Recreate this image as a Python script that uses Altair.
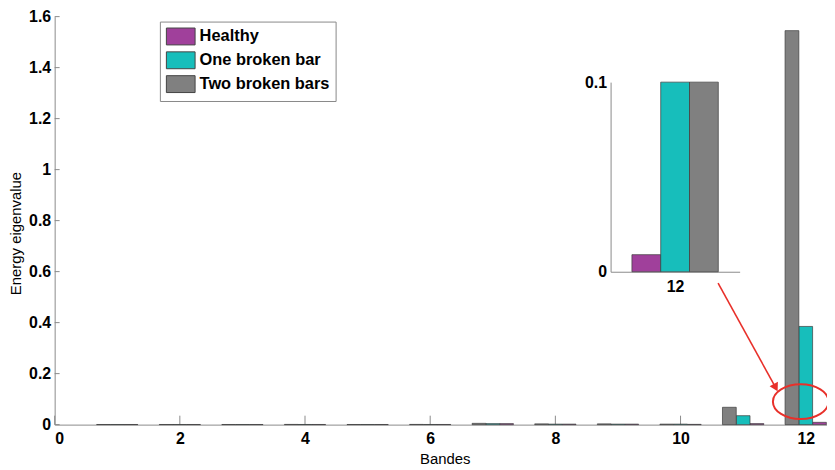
import altair as alt
import pandas as pd

# ---------------- data ----------------
bands = list(range(1, 13))
healthy = [0.0005, 0.0005, 0.0005, 0.0006, 0.0005, 0.0006, 0.004, 0.002, 0.002, 0.001, 0.004, 0.009]
one_bar = [0.0005, 0.0005, 0.0005, 0.0006, 0.0005, 0.0006, 0.004, 0.002, 0.002, 0.002, 0.035, 0.385]
two_bars = [0.0005, 0.0005, 0.0005, 0.0008, 0.0005, 0.0008, 0.005, 0.003, 0.003, 0.002, 0.068, 1.545]
series = ["Healthy", "One broken bar", "Two broken bars"]
colors = ["#A0409B", "#17BEBB", "#808080"]
main_order = {"Two broken bars": 0, "One broken bar": 1, "Healthy": 2}
inset_order = {"Healthy": 0, "One broken bar": 1, "Two broken bars": 2}
x_ticks = [0, 2, 4, 6, 8, 10, 12]
y_ticks = [0, 0.2, 0.4, 0.6, 0.8, 1.0, 1.2, 1.4, 1.6]
inset_band = 12
inset_ticks = [0, 0.1]
arrow_x = [10.60, 11.52]
arrow_y = [0.555, 0.145]
ellipse_x = [11.92]
ellipse_y = [0.09]

rows = []
for name, vals in zip(series, [healthy, one_bar, two_bars]):
    for b, v in zip(bands, vals):
        rows.append({"band": b, "series": name, "value": v,
                     "idx": main_order[name], "iidx": inset_order[name]})
df = pd.DataFrame(rows)

FONT = "Liberation Sans"
AX = "#8a8a8a"
W, H = 778, 411
BW = 0.22

xs = alt.Scale(domain=[0, 12.34], nice=False, zero=False)
ys = alt.Scale(domain=[0, 1.6], nice=False)
cs = alt.Scale(domain=series, range=colors)

x_axis = alt.Axis(
    orient="bottom", values=x_ticks, format="d", ticks=False, grid=False, title="Bandes",
    domainColor=AX, labelFont=FONT, labelFontWeight="bold", labelFontSize=16,
    labelColor="#000", labelPadding=6, titleFont=FONT, titleFontWeight="normal",
    titleFontSize=15, titleColor="#000", titlePadding=5, titleX=393)
y_axis = alt.Axis(
    orient="left", values=y_ticks, format="~g", ticks=False, grid=False, title="Energy eigenvalue",
    domainColor=AX, labelFont=FONT, labelFontWeight="bold", labelFontSize=16,
    labelColor="#000", labelPadding=4, titleFont=FONT, titleFontWeight="normal",
    titleFontSize=15, titleColor="#000", titlePadding=5, titleY=218)

xtick = alt.Chart(pd.DataFrame({"t": x_ticks})).mark_rule(color=AX, strokeWidth=1).encode(
    x=alt.X("t:Q", scale=xs, axis=x_axis), y=alt.value(H), y2=alt.value(H - 9))
ytick = alt.Chart(pd.DataFrame({"t": y_ticks})).mark_rule(color=AX, strokeWidth=1).encode(
    y=alt.Y("t:Q", scale=ys, axis=y_axis), x=alt.value(0), x2=alt.value(5))

bars = alt.Chart(df).transform_calculate(
    x0=f"datum.band - 1.5*{BW} + datum.idx*{BW}",
    x1=f"datum.band - 0.5*{BW} + datum.idx*{BW}",
).mark_bar(stroke="#3c3c3c", strokeWidth=0.7).encode(
    x=alt.X("x0:Q", scale=xs, axis=x_axis),
    x2="x1:Q",
    y=alt.Y("value:Q", scale=ys, axis=y_axis),
    y2=alt.datum(0),
    color=alt.Color("series:N", scale=cs, legend=alt.Legend(
        title=None, orient="none", legendX=106, legendY=5, padding=6,
        strokeColor="#888", fillColor="white",
        symbolType="M-1.7,-1H1.7V1H-1.7Z", symbolSize=289, symbolOffset=6,
        symbolStrokeColor="#444", symbolStrokeWidth=1, symbolOpacity=1,
        labelFont=FONT, labelFontWeight="bold", labelFontSize=16.5, labelColor="#000",
        labelOffset=10, rowPadding=2)),
)

arrow_df = pd.DataFrame({"x": arrow_x, "y": arrow_y})
arrow = alt.Chart(arrow_df).mark_line(color="#E8302A", strokeWidth=1.6).encode(
    x=alt.X("x:Q", scale=xs, axis=x_axis), y=alt.Y("y:Q", scale=ys, axis=y_axis))
head = alt.Chart(arrow_df.tail(1)).mark_point(
    shape="triangle-up", filled=True, color="#E8302A", opacity=1, size=90, angle=152).encode(
    x=alt.X("x:Q", scale=xs, axis=x_axis), y=alt.Y("y:Q", scale=ys, axis=y_axis))
ellipse = alt.Chart(pd.DataFrame({"x": ellipse_x, "y": ellipse_y})).mark_point(
    shape="M-1.6,0A1.6,1,0,1,0,1.6,0A1.6,1,0,1,0,-1.6,0Z", filled=False,
    color="#E8302A", strokeWidth=2, size=1225, opacity=1).encode(
    x=alt.X("x:Q", scale=xs, axis=x_axis), y=alt.Y("y:Q", scale=ys, axis=y_axis))

main = alt.layer(xtick, ytick, bars, arrow, head, ellipse)

inset = alt.Chart(df).transform_filter(f"datum.band == {inset_band}").transform_calculate(
    xi0=f"datum.band - 1.5*{BW} + datum.iidx*{BW}",
    xi1=f"datum.band - 0.5*{BW} + datum.iidx*{BW}",
).mark_bar(stroke="#3c3c3c", strokeWidth=0.7).encode(
    x=alt.X("xi0:Q", scale=alt.Scale(domain=[11.507, 12.493], range=[560, 690], nice=False, zero=False),
            axis=alt.Axis(orient="bottom", offset=-154, values=[inset_band], format="d", ticks=False,
                          grid=False, title=None, domainColor=AX, labelFont=FONT,
                          labelFontWeight="bold", labelFontSize=16, labelColor="#000", labelPadding=7)),
    x2="xi1:Q",
    y=alt.Y("value:Q", scale=alt.Scale(domain=[0, 0.1], range=[257, 66], clamp=True, nice=False),
            axis=alt.Axis(orient="left", offset=-560, values=inset_ticks, format="~g", ticks=False,
                          grid=False, title=None, domainColor=AX, labelFont=FONT,
                          labelFontWeight="bold", labelFontSize=16, labelColor="#000", labelPadding=4)),
    y2=alt.datum(0),
    color=alt.Color("series:N", scale=cs, legend=None),
)

chart = alt.layer(main, inset).resolve_scale(x="independent", y="independent").properties(
    width=W, height=H, autosize="none",
    padding={"left": 47, "top": 7, "right": 0, "bottom": 40},
).configure(font=FONT, background="white").configure_view(stroke=None)

chart.save("out.html", embed_options={"renderer": "svg", "actions": False})
